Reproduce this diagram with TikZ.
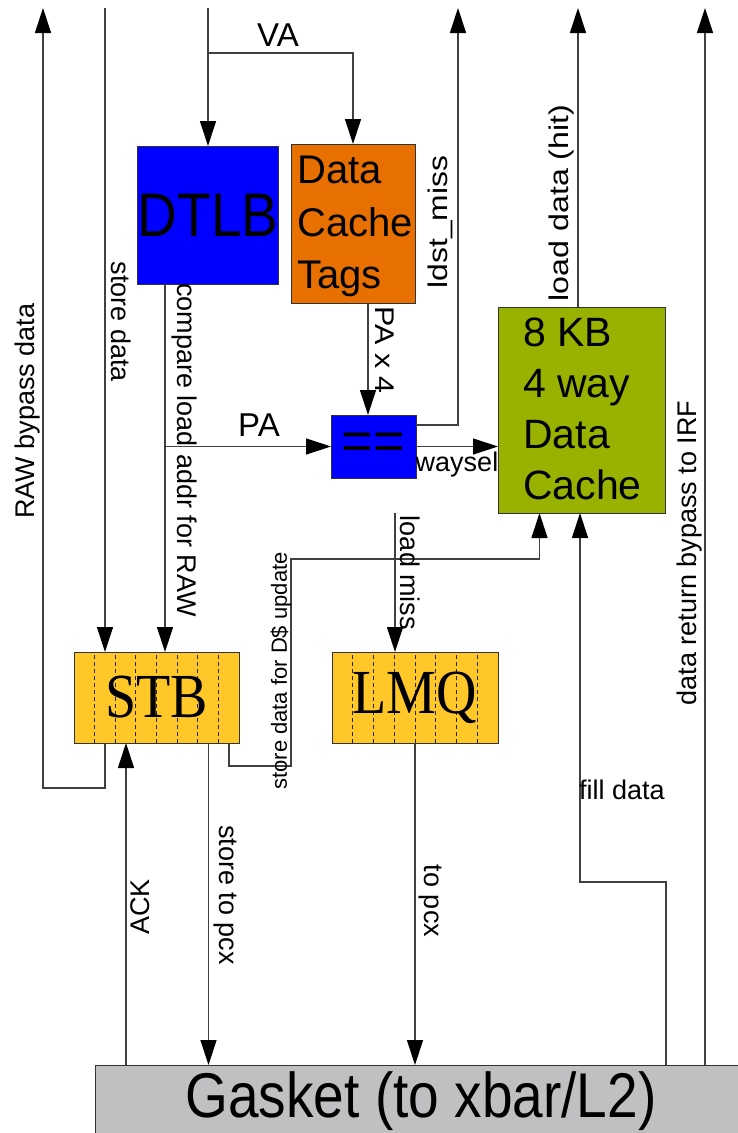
\documentclass[tikz,border=0pt]{standalone}
\usepackage{fontspec}
\setmainfont{Liberation Sans}
\newfontfamily\serf{Liberation Serif}
\usetikzlibrary{arrows.meta,calc}
\definecolor{tlbblue}{RGB}{0,0,255}
\definecolor{tagorange}{RGB}{232,112,0}
\definecolor{cachegreen}{RGB}{153,178,0}
\definecolor{qyellow}{RGB}{255,200,40}
\definecolor{gasketgray}{RGB}{192,192,194}
\begin{document}
\begin{tikzpicture}[x=1pt,y=-1pt,
  wire/.style={draw=black!75,line width=1.2pt},
  arr/.style={wire,-{Triangle[length=25pt,width=16pt,black]}},
  blk/.style={draw=black!80,line width=1pt,inner sep=0pt,outer sep=0pt},
  lbl/.style={font=\fontsize{27}{30}\selectfont,inner sep=0pt},
  biglbl/.style={font=\fontsize{33}{36}\selectfont,inner sep=0pt},
  qdash/.style={draw=black!85,line width=0.9pt,dash pattern=on 4pt off 3pt}]
\useasboundingbox (0,0) rectangle (738,1133);

% ---- blocks ----
\node[blk,fill=tlbblue,minimum width=140pt,minimum height=138pt,
      font=\fontsize{55}{60}\selectfont] (dtlb) at (208,215) {\scalebox{1}[1.12]{DTLB}};
\node[blk,fill=tagorange,minimum width=124pt,minimum height=159pt] (tags) at (353,223.5) {};
\node[anchor=north west,inner sep=0pt,align=left,font=\fontsize{40}{52.5}\selectfont] (tagstxt) at (297,156) {Data\\Cache\\Tags};
\node[blk,fill=tlbblue,minimum width=85pt,minimum height=63pt,
      font=\fontsize{54}{60}\selectfont] (cmp) at (373.5,446.5) {==};
\node[blk,fill=cachegreen,minimum width=167pt,minimum height=206pt] (cache) at (581.5,410) {};
\node[anchor=north west,inner sep=0pt,align=left,font=\fontsize{41}{51}\selectfont] (cachetxt) at (523,318) {8 KB\\4 way\\Data\\Cache};
\node[blk,fill=qyellow,minimum width=165pt,minimum height=91pt] (stb) at (156.5,697.5) {};
\node[blk,fill=qyellow,minimum width=166pt,minimum height=91pt] (lmq) at (415,697.5) {};
\foreach \q in {stb,lmq}{
  \foreach \i in {1,...,7}{
    \draw[qdash] ($(\q.south west)!\i/8!(\q.south east)$) -- ($(\q.north west)!\i/8!(\q.north east)$);
  }
}
\node[inner sep=0pt,font=\serf\fontsize{56}{60}\selectfont] (stbtxt) at (stb.center) {\scalebox{1}[1.12]{STB}};
\node[inner sep=0pt,font=\serf\fontsize{56}{60}\selectfont] (lmqtxt) at (lmq.center) {\scalebox{1}[1.12]{LMQ}};
\node[blk,fill=gasketgray,minimum width=652pt,minimum height=72pt,
      font=\fontsize{55}{60}\selectfont] (gasket) at (421,1101) {\scalebox{1}[1.15]{Gasket (to xbar/L2)}};

% ---- free ends ----
\coordinate (rawtop) at (43,8);
\coordinate (sdtop) at (105,8);
\coordinate (vatop) at (208,8);
\coordinate (vabr) at (208,53);
\coordinate (ldtop) at (458,8);
\coordinate (lhtop) at (578,8);
\coordinate (drtop) at (705,8);
\coordinate (cmpx) at ([xshift=-43pt]dtlb.south);
\coordinate (sdu) at (291,559);
\coordinate (lmtop) at (395,513);
\coordinate (fillbend) at (666,882);
\coordinate (ackx) at ([xshift=-30.5pt]stb.south);
\coordinate (pcxx) at ([xshift=52pt]stb.south);

% ---- connectors ----
\draw[arr] ([xshift=31pt]stb.south west) -- ++(0,45) -| (rawtop);
\draw[arr] (sdtop) -- (sdtop |- stb.north);
\draw[arr] (vatop) -- (dtlb.north);
\draw[arr] (vabr) -| (tags.north);
\draw[arr] (cmpx) -- (cmpx |- stb.north);
\draw[arr] (cmpx |- cmp.west) -- (cmp.west);
\draw[arr] ([xshift=15pt]tags.south) -- ([xshift=-5.5pt]cmp.north);
\draw[arr] ([yshift=21.5pt]cmp.east) -| (ldtop);
\draw[arr] (cmp.east) -- (cmp.east -| cache.west);
\draw[arr] (cache.north -| lhtop) -- (lhtop);
\draw[arr] (drtop |- gasket.north) -- (drtop);
\draw[arr] (fillbend |- gasket.north) -- (fillbend) -| ([xshift=-1.5pt]cache.south);
\draw[arr] ([xshift=-10pt]stb.south east) -- ++(0,23) -| (sdu) -| ([xshift=-42pt]cache.south);
\draw[arr] (lmtop) -- (lmtop |- lmq.north);
\draw[arr] (lmq.south) -- (lmq.south |- gasket.north);
\draw[arr] (pcxx) -- (pcxx |- gasket.north);
\draw[arr] (ackx |- gasket.north) -- (ackx);

% ---- labels ----
\node[biglbl] (lva) at (278,35) {VA};
\node[biglbl] (lpa) at (259,425) {PA};
\node[lbl,rotate=90] (lraw) at (27.5,411) {RAW bypass data};
\node[lbl,rotate=-90] (lsd) at (121.5,322) {store data};
\node[lbl,rotate=-90] (lcmp) at (184.5,450) {compare load addr for RAW};
\node[lbl,rotate=-90] (lpa4) at (385,350) {\scalebox{1.13}[1]{PA x 4}};
\node[lbl,rotate=90] (lld) at (440,222) {\scalebox{1.18}[1]{ldst\_miss}};
\node[lbl] (lway) at (457,465) {waysel};
\node[lbl,rotate=90] (lhit) at (562,203) {\scalebox{1.19}[1]{load data (hit)}};
\node[lbl,rotate=90] (ldr) at (690,553) {data return bypass to IRF};
\node[lbl,rotate=-90] (llm) at (410,573) {load miss};
\node[font=\fontsize{22}{24}\selectfont,inner sep=0pt,rotate=90] (lsdu) at (281,671) {store data for D\$ update};
\node[lbl] (lfill) at (622,790) {fill data};
\node[lbl,rotate=90] (lack) at (140,907) {ACK};
\node[lbl,rotate=-90] (lstp) at (225,895) {store to pcx};
\node[lbl,rotate=-90] (ltp) at (430,901) {to pcx};
\end{tikzpicture}
\end{document}
